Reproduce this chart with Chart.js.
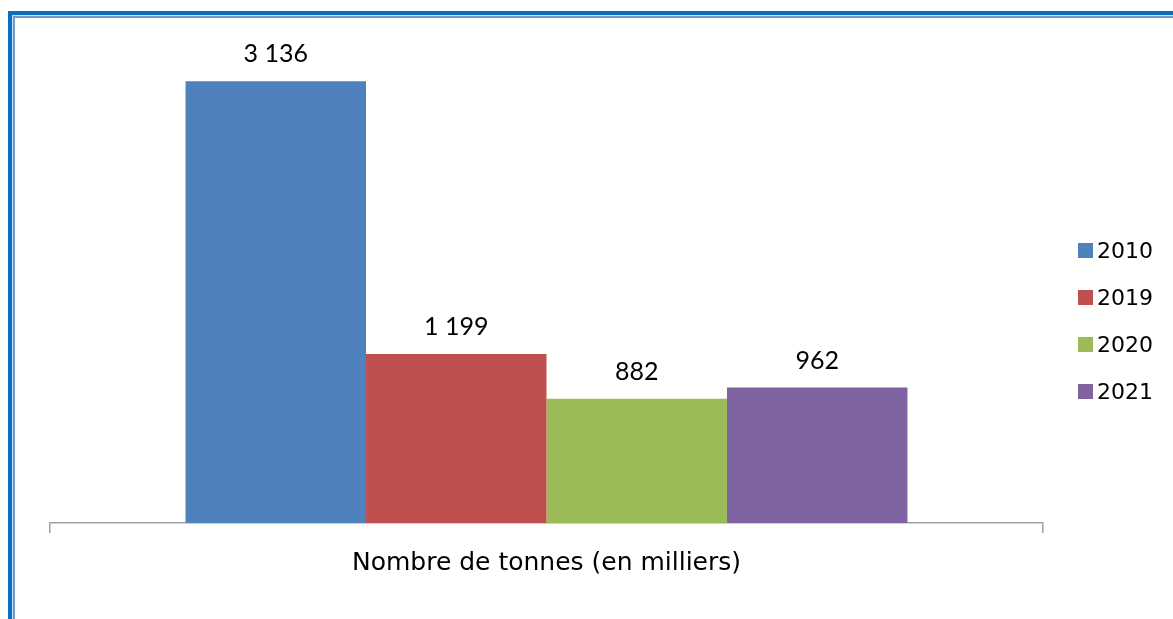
<!DOCTYPE html>
<html lang="fr">
<head>
    <meta charset="UTF-8">
    <meta name="viewport" content="width=device-width, initial-scale=1.0">
    <script src="https://cdn.jsdelivr.net/npm/chart.js"></script>
    <title>Nombre de tonnes (en milliers)</title>
    <style>
        body { margin: 0; background: #ffffff; overflow: hidden; }
        #frame {
            position: absolute; left: 8px; top: 11px; width: 2000px; height: 2000px;
            border-left: 4px solid #0b6fc1; border-top: 4px solid #0b6fc1;
            box-shadow: inset 1px 1px 0 #c9e1f4, inset 3px 3px 0 #6f9cc4;
            background: #fffffd;
        }
        #wrap { position: absolute; left: 0; top: 0; width: 1173px; height: 619px; }
        #legend { position: absolute; left: 1078px; top: 227px; font-family: "DejaVu Sans", sans-serif; font-size: 22px; color: #000; }
        .legend-item { display: flex; align-items: center; height: 47px; }
        .legend-box { width: 15px; height: 15px; margin-right: 4px; }
    </style>
</head>
<body>
    <div id="frame"></div>
    <div id="wrap">
        <canvas id="chart"></canvas>
    </div>
    <div id="legend"></div>

    <script>
        // Chart values
        const categories = ['Nombre de tonnes (en milliers)'];
        const years = ['2010', '2019', '2020', '2021'];
        const tonnes = [3136, 1199, 882, 962];
        const colors = ['#4F81BD', '#C0504D', '#9BBB59', '#8064A2'];

        // 3136 -> "3 136"
        function formatValue(v) {
            return String(v).replace(/\B(?=(\d{3})+(?!\d))/g, ' ');
        }

        // one dataset per year, all in the single category
        const datasets = years.map((year, i) => ({
            label: year,
            data: [tonnes[i]],
            backgroundColor: colors[i],
            borderWidth: 0,
            categoryPercentage: 0.727,
            barPercentage: 1,
        }));

        // Value labels drawn above each bar
        const valueLabels = {
            id: 'valueLabels',
            afterDatasetsDraw(chart) {
                const ctx = chart.ctx;
                ctx.save();
                ctx.font = '25px Lato, sans-serif';
                ctx.fillStyle = '#000';
                ctx.textAlign = 'center';
                ctx.textBaseline = 'middle';
                chart.data.datasets.forEach((ds, i) => {
                    chart.getDatasetMeta(i).data.forEach((bar, j) => {
                        ctx.fillText(formatValue(ds.data[j]), bar.x, bar.y - 27);
                    });
                });
                ctx.restore();
            }
        };

        const ctx = document.getElementById('chart').getContext('2d');
        const chart = new Chart(ctx, {
            type: 'bar',
            data: { labels: categories, datasets: datasets },
            plugins: [valueLabels],
            options: {
                responsive: true,
                maintainAspectRatio: false,
                animation: false,
                layout: { padding: { left: 50, right: 130, top: 30, bottom: 26 } },
                plugins: {
                    legend: { display: false },
                    tooltip: { enabled: false },
                },
                scales: {
                    x: {
                        offset: true,
                        grid: {
                            display: true,
                            offset: true,
                            drawOnChartArea: false,
                            tickLength: 10,
                            color: '#a0a0a0',
                            lineWidth: 1.5,
                        },
                        border: { display: true, color: '#a0a0a0', width: 1.5 },
                        ticks: {
                            padding: 15,
                            color: '#000',
                            font: { family: 'DejaVu Sans', size: 25 },
                        },
                    },
                    y: {
                        display: false,
                        min: 0,
                        max: 3500,
                    },
                },
            },
        });

        // HTML legend on the right
        const legend = document.getElementById('legend');
        years.forEach((year, i) => {
            const item = document.createElement('div');
            item.className = 'legend-item';
            const box = document.createElement('span');
            box.className = 'legend-box';
            box.style.background = colors[i];
            const text = document.createElement('span');
            text.textContent = year;
            item.appendChild(box);
            item.appendChild(text);
            legend.appendChild(item);
        });
    </script>
</body>
</html>
